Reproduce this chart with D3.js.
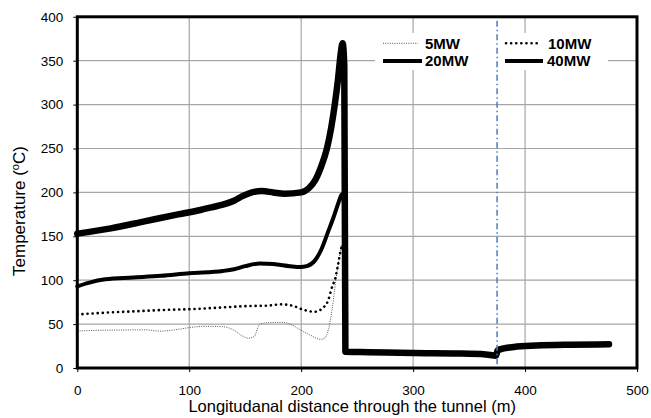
<!DOCTYPE html>
<html>
<head>
<meta charset="utf-8">
<script src="https://cdn.jsdelivr.net/npm/d3@7/dist/d3.min.js"></script>
<style>
  html, body { margin: 0; padding: 0; background: #fff; }
  svg { display: block; font-family: "Liberation Sans", Arial, sans-serif; }
</style>
</head>
<body>
<svg id="chart" width="651" height="418"></svg>
<script>
// ---------------- data ----------------
const xTicks = [0, 100, 200, 300, 400, 500];
const yTicks = [0, 50, 100, 150, 200, 250, 300, 350, 400];
const seriesNames = ["5MW", "10MW", "20MW", "40MW"];
const markerX = 375; // dash-dot vertical marker

// common downstream part (after the fire zone)
const distTail = [239.5, 260, 300, 340, 365, 374, 375.5, 380, 390, 410, 440, 475];
const tempTail = [18.5, 18, 17, 16.5, 15.5, 14, 20, 22, 24, 25.5, 26.5, 27];

const dist5 = [0, 20, 44, 60, 74, 90, 100, 115, 130, 140, 148, 153, 158, 163, 170, 182, 192, 199, 208, 217, 221, 225.6, 228, 229.5, 231, 234, 236, 238];
const temp5 = [42, 43, 43.3, 43.5, 42, 44, 46, 47.5, 47, 43, 36, 34, 36, 50, 51.5, 52, 49, 43.5, 37.6, 32.7, 34, 51, 70, 85, 100, 125, 140, 120];

const dist10 = [0, 25, 50, 75, 100, 130, 150, 170, 182, 192, 203, 212, 217, 221, 224, 226, 228, 230, 233, 235.5, 237, 238.5];
const temp10 = [61, 63, 64.5, 66, 67, 69, 70.5, 71, 72.5, 71, 66, 64, 66, 70.6, 76.7, 85, 94, 100, 118, 135, 140, 120];

const dist20 = [0, 10, 25, 50, 75, 100, 130, 140, 150, 163, 175, 190, 199, 205, 212, 218, 224, 229, 233, 236.5, 238.5];
const temp20 = [93, 97, 101, 103, 105, 108, 110.5, 112.5, 116, 119, 118.5, 116, 115, 116, 122, 135, 155, 172, 187, 198, 185];

const dist40 = [0, 30, 60, 90, 110, 120, 130, 140, 148, 156, 165, 175, 185, 200, 207, 213, 218, 223, 227, 230, 233, 235.5, 237, 238.5];
const temp40 = [153, 159, 167, 175, 180, 183, 186, 190.5, 196, 200, 201.5, 200, 198.5, 200, 205, 215, 230, 250, 275, 300, 330, 360, 370, 345];

// ---------------- layout ----------------
const svg = d3.select("#chart");
const L = 77.3, R = 637, T = 16.8, B = 368;
const x = d3.scaleLinear().domain([0, 500]).range([L, R]);
const y = d3.scaleLinear().domain([0, 400]).range([B, T]);

svg.append("rect").attr("width", 651).attr("height", 418).attr("fill", "#fff");

// gridlines
const grid = svg.append("g").attr("stroke", "#a6a6a6").attr("stroke-width", 1.2);
grid.selectAll("line.v").data(xTicks.filter(d => d > 0 && d < 500)).join("line")
  .attr("x1", d => x(d)).attr("x2", d => x(d)).attr("y1", T).attr("y2", B);
grid.selectAll("line.h").data(yTicks.filter(d => d > 0 && d < 400)).join("line")
  .attr("x1", L).attr("x2", R).attr("y1", d => y(d)).attr("y2", d => y(d));

// series lines
const line = d3.line().x(d => x(d[0])).y(d => y(d[1])).curve(d3.curveMonotoneX);
function pts(dx, ty) {
  const main = dx.map((d, i) => [d, ty[i]]);
  return main.concat(distTail.map((d, i) => [d, tempTail[i]]));
}
const styles = {
  "5MW":  { w: 1, dash: "1 1.3", color: "#555", cap: "butt" },
  "10MW": { w: 2.6, dash: "0.1 5", color: "#000", cap: "round" },
  "20MW": { w: 4, dash: null, color: "#000", cap: "round" },
  "40MW": { w: 6.5, dash: null, color: "#000", cap: "round" }
};
const seriesData = {
  "5MW": pts(dist5, temp5),
  "10MW": pts(dist10, temp10),
  "20MW": pts(dist20, temp20),
  "40MW": pts(dist40, temp40)
};
seriesNames.forEach(n => {
  const s = styles[n];
  svg.append("path").datum(seriesData[n])
    .attr("d", line).attr("fill", "none")
    .attr("stroke", s.color).attr("stroke-width", s.w)
    .attr("stroke-linecap", s.cap).attr("stroke-linejoin", "round")
    .attr("stroke-dasharray", s.dash);
});

// legend
const lg = svg.append("g");
lg.append("rect").attr("x", 375).attr("y", 33).attr("width", 233).attr("height", 37).attr("fill", "#fff");
const legendPos = [
  { n: "5MW",  x1: 383, x2: 418, tx: 425, ty: 43.3 },
  { n: "10MW", x1: 506, x2: 541, tx: 548, ty: 43.3 },
  { n: "20MW", x1: 383, x2: 422, tx: 425, ty: 61 },
  { n: "40MW", x1: 505, x2: 543, tx: 547, ty: 61 }
];
legendPos.forEach(p => {
  const s = styles[p.n];
  lg.append("line").attr("x1", p.x1).attr("x2", p.x2).attr("y1", p.ty).attr("y2", p.ty)
    .attr("stroke", s.color).attr("stroke-width", Math.min(s.w, 4))
    .attr("stroke-linecap", s.dash ? s.cap : "butt")
    .attr("stroke-dasharray", s.dash);
  lg.append("text").attr("x", p.tx).attr("y", p.ty).attr("dy", "0.36em")
    .attr("font-size", 15).attr("font-weight", "bold").attr("fill", "#000").text(p.n);
});

// dash-dot marker
svg.append("line").attr("x1", x(markerX)).attr("x2", x(markerX)).attr("y1", T + 4).attr("y2", B)
  .attr("stroke", "#4a7ebb").attr("stroke-width", 1.5).attr("stroke-dasharray", "6 3 1.5 3");

// axes
const yAxis = svg.append("g").attr("transform", `translate(${L},0)`)
  .call(d3.axisLeft(y).tickValues(yTicks).tickSize(4).tickPadding(10));
const xAxis = svg.append("g").attr("transform", `translate(0,${B})`)
  .call(d3.axisBottom(x).tickValues(xTicks).tickSize(4).tickPadding(13));
[yAxis, xAxis].forEach(a => {
  a.select(".domain").remove();
  a.selectAll("line").attr("stroke", "#000").attr("stroke-width", 1);
  a.selectAll("text").attr("font-size", 13.5).attr("fill", "#000")
    .attr("font-family", "'Liberation Sans', Arial, sans-serif");
});

// frame
svg.append("rect").attr("x", L).attr("y", T).attr("width", R - L).attr("height", B - T)
  .attr("fill", "none").attr("stroke", "#000").attr("stroke-width", 3);

// axis titles
svg.append("text").attr("x", (L + R) / 2 - 5).attr("y", 412).attr("text-anchor", "middle")
  .attr("font-size", 16.5).attr("fill", "#000")
  .text("Longitudanal distance through the tunnel (m)");
const yt = svg.append("text").attr("transform", "translate(24.5,211) rotate(-90)")
  .attr("text-anchor", "middle").attr("font-size", 17).attr("fill", "#000");
yt.append("tspan").text("Temperature (");
yt.append("tspan").attr("font-size", 11).attr("dy", -6).text("o");
yt.append("tspan").attr("dy", 6).text("C)");
</script>
</body>
</html>
